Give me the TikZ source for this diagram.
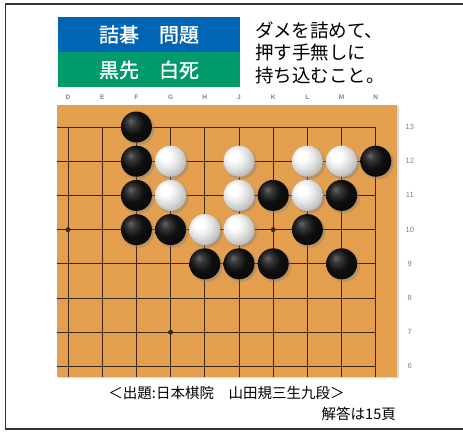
\documentclass[tikz,border=0pt]{standalone}
\usepackage{fontspec}
\setmainfont{Liberation Sans}
\newfontfamily\jpfont{Noto Sans CJK JP}
\newfontfamily\jpbanner[FakeBold=1.2]{Noto Sans CJK JP}
\usetikzlibrary{positioning,shadows}

\definecolor{wood}{RGB}{228,160,78}
\definecolor{gridbrown}{RGB}{58,38,18}
\definecolor{qblue}{RGB}{0,102,180}
\definecolor{qgreen}{RGB}{0,154,107}
\pgfdeclareradialshading{blackstone}{\pgfpoint{-10bp}{10bp}}{color(0bp)=(black!60); color(7bp)=(black!78); color(18bp)=(black!94); color(50bp)=(black)}
\pgfdeclareradialshading{whitestone}{\pgfpoint{-10bp}{10bp}}{color(0bp)=(white); color(8bp)=(white); color(18bp)=(black!10); color(30bp)=(black!26); color(42bp)=(black!40); color(60bp)=(black!48)}

\begin{document}
\begin{tikzpicture}[
  x=1pt, y=-1pt,
  banner/.style={rectangle, minimum width=182pt, minimum height=35pt, inner sep=0pt, text=white, font=\jpbanner\fontsize{20}{20}\selectfont},
  board/.style={rectangle, fill=wood, minimum width=340pt, minimum height=272pt, inner sep=0pt, drop shadow={shadow xshift=2pt, shadow yshift=-1pt, opacity=0.3}},
  grid/.style={draw=gridbrown, line width=0.9pt},
  bstone/.style={circle, minimum size=31pt, inner sep=0pt, shading=blackstone, circular drop shadow={shadow xshift=1.5pt, shadow yshift=-1.5pt, opacity=0.45}},
  wstone/.style={circle, minimum size=31pt, inner sep=0pt, shading=whitestone, circular drop shadow={shadow xshift=1.5pt, shadow yshift=-1.5pt, opacity=0.45}},
  hoshi/.style={circle, fill=gridbrown, minimum size=5pt, inner sep=0pt},
  coordlabel/.style={font=\bfseries\fontsize{6.5}{7}\selectfont, text=black!50, inner sep=0pt}
]
  \useasboundingbox (0,0) rectangle (463,432);
  \draw[line width=1.5pt, black!80] (463,4) -- (5.5,4) -- (5.5,429) -- (463,429);

  % header
  \node[banner, fill=qblue] (qtitle) at (149,34.5) {詰碁　問題};
  \node[banner, fill=qgreen, below=0pt of qtitle] (qcond) {黒先　白死};
  \node[align=left, anchor=west, inner sep=0pt, font=\jpfont\fontsize{18.5}{22.5}\selectfont] (qtask) at (255,52.5) {ダメを詰めて、\\押す手無しに\\持ち込むこと。};

  % board
  \node[board] (board) at (227,241) {};
  \foreach \sx in {59,62,...,396}
    \draw[wood!85!brown, opacity=0.25, line width=0.5pt] (\sx,105) -- (\sx,377);
  \foreach \c [count=\i from 0] in {D,E,F,G,H,J,K,L,M,N} {
    \foreach \r in {6,...,13}
      \coordinate (\c\r) at ({68+34.2*\i},{127+34.2*(13-\r)});
    \node[coordlabel] (lab\c) at ({68+34.2*\i},97) {\c};
  }
  \foreach \c in {D,E,F,G,H,J,K,L,M,N}
    \draw[grid] (\c13) -- (\c13 |- board.south);
  \foreach \r in {6,...,13} {
    \draw[grid] (board.west |- N\r) -- (N\r);
    \node[coordlabel, font=\fontsize{7.5}{8}\selectfont] (lab\r) at ([xshift=34pt]N\r) {\r};
  }
  \node[hoshi] (hD10) at (D10) {};
  \node[hoshi] (hK10) at (K10) {};
  \node[hoshi] (hG7) at (G7) {};

  % stones
  \node[bstone] (sF13) at (F13) {};
  \node[bstone] (sF12) at (F12) {};
  \node[bstone] (sF11) at (F11) {};
  \node[bstone] (sF10) at (F10) {};
  \node[bstone] (sG10) at (G10) {};
  \node[bstone] (sH9) at (H9) {};
  \node[bstone] (sJ9) at (J9) {};
  \node[bstone] (sK9) at (K9) {};
  \node[bstone] (sK11) at (K11) {};
  \node[bstone] (sL10) at (L10) {};
  \node[bstone] (sM11) at (M11) {};
  \node[bstone] (sM9) at (M9) {};
  \node[bstone] (sN12) at (N12) {};
  \node[wstone] (sG12) at (G12) {};
  \node[wstone] (sG11) at (G11) {};
  \node[wstone] (sH10) at (H10) {};
  \node[wstone] (sJ12) at (J12) {};
  \node[wstone] (sJ11) at (J11) {};
  \node[wstone] (sJ10) at (J10) {};
  \node[wstone] (sL12) at (L12) {};
  \node[wstone] (sL11) at (L11) {};
  \node[wstone] (sM12) at (M12) {};

  % footer
  \node[font=\jpfont\fontsize{14.5}{15}\selectfont] (qsource) at (226.5,393) {＜出題:日本棋院　山田規三生九段＞};
  \node[anchor=east, inner sep=0pt, font=\jpfont\fontsize{14.5}{15}\selectfont] (qanswer) at (396,414) {解答は15頁};
\end{tikzpicture}
\end{document}
